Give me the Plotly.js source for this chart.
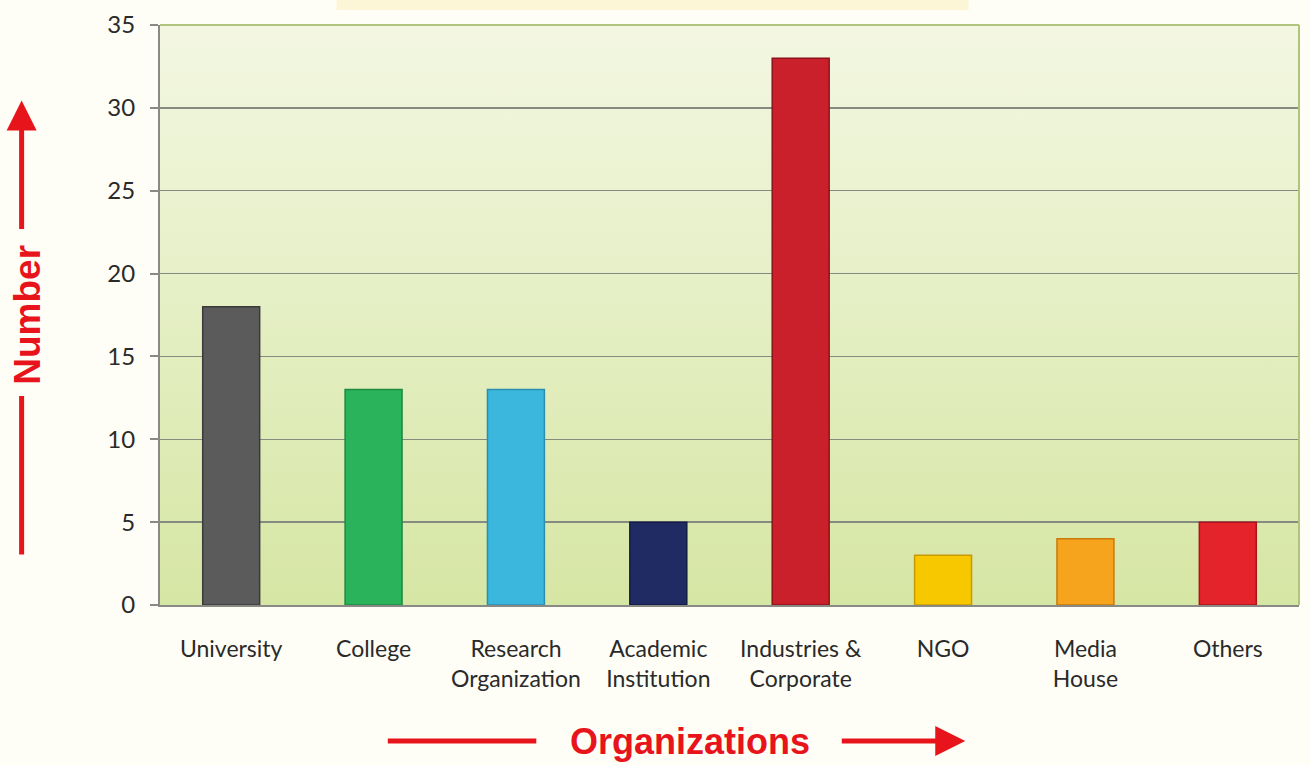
<!DOCTYPE html>
<html>
<head>
<meta charset="utf-8">
<script src="https://cdn.plot.ly/plotly-3.0.1.min.js"></script>
<style>html,body{margin:0;padding:0;background:#fffef6;}#chart{width:1310px;height:765px;}</style>
</head>
<body>
<div id="chart"></div>
<script>
const categories = ["University", "College", "Research<br>Organization", "Academic<br>Institution", "Industries &<br>Corporate", "NGO", "Media<br>House", "Others"];
const values = [18, 13, 13, 5, 33, 3, 4, 5];
const barColors = ["#5b5b5b", "#2bb35b", "#3bb6dd", "#1f2b62", "#c9202b", "#f7c800", "#f6a31e", "#e4232b"];
const barEdges = ["#3a3a3a", "#1c8a42", "#2a8eb0", "#141c44", "#8e1018", "#c99a00", "#c87a0c", "#a8151b"];
const yTicks = [0, 5, 10, 15, 20, 25, 30, 35];

const bgSvg = '<svg xmlns="http://www.w3.org/2000/svg" width="100" height="100" preserveAspectRatio="none">' +
  '<defs><linearGradient id="g" x1="0" y1="0" x2="0" y2="1">' +
  '<stop offset="0" stop-color="#f3f7e2"/><stop offset="1" stop-color="#d6e6a4"/></linearGradient></defs>' +
  '<rect width="100" height="100" fill="url(#g)"/></svg>';
const bgUri = 'data:image/svg+xml;charset=utf-8,' + encodeURIComponent(bgSvg);

const trace = {
  type: 'bar',
  x: categories,
  y: values,
  marker: {color: barColors, line: {color: barEdges, width: 1.5}},
  hoverinfo: 'x+y'
};

const red = '#e8141c';
const layout = {
  width: 1310, height: 765,
  margin: {l: 160, r: 11, t: 25, b: 160},
  paper_bgcolor: '#fffef6',
  plot_bgcolor: 'rgba(0,0,0,0)',
  bargap: 0.6,
  showlegend: false,
  font: {family: 'Lato, sans-serif', color: '#2a2a2a'},
  xaxis: {
    type: 'category',
    tickfont: {size: 23, color: '#2a2a2a'},
    showline: true, linecolor: '#8a8a84', linewidth: 2,
    ticks: '', showgrid: false,
    ticklabelstandoff: 22,
    mirror: false
  },
  yaxis: {
    range: [0, 35],
    tickvals: yTicks,
    ticktext: yTicks.map(String),
    tickfont: {size: 24, color: '#2a2a2a'},
    showline: true, linecolor: '#8a8a84', linewidth: 2,
    ticks: 'outside', ticklen: 8, tickcolor: '#8a8a84', tickwidth: 2,
    ticklabelstandoff: 10,
    showgrid: true, gridcolor: '#858b7e', gridwidth: 1.5,
    zeroline: false
  },
  images: [{
    source: bgUri, xref: 'paper', yref: 'paper', x: 0, y: 1, sizex: 1, sizey: 1,
    xanchor: 'left', yanchor: 'top', sizing: 'stretch', layer: 'below'
  }],
  shapes: [
    {type: 'line', xref: 'paper', yref: 'paper', x0: 0, x1: 1, y0: 1, y1: 1, line: {color: '#b0c47e', width: 2}},
    {type: 'line', xref: 'paper', yref: 'paper', x0: 1, x1: 1, y0: 0, y1: 1, line: {color: '#b0c47e', width: 2}},
    {type: 'rect', xref: 'paper', yref: 'paper', x0: 0.155, x1: 0.71, y0: 1.026, y1: 1.045, fillcolor: '#fdf6d6', line: {width: 0}, layer: 'below'}
  ],
  annotations: [
    {xref: 'paper', yref: 'paper', x: -0.117, y: 0.5, text: '<b>Number</b>', textangle: -90, showarrow: false,
     font: {family: 'Liberation Sans, Arial, sans-serif', size: 37, color: red}, xanchor: 'center', yanchor: 'middle'},
    {xref: 'paper', yref: 'paper', x: 0.465, y: -0.2345, text: '<b>Organizations</b>', showarrow: false,
     font: {family: 'Liberation Sans, Arial, sans-serif', size: 36, color: red}, xanchor: 'center', yanchor: 'middle'},
    // vertical arrow parts
    {xref: 'paper', yref: 'paper', x: -0.1215, y: 0.87, ax: 0, ay: 130, text: '', showarrow: true,
     arrowhead: 2, arrowsize: 1.2, arrowwidth: 5, arrowcolor: red},
    {xref: 'paper', yref: 'paper', x: -0.1215, y: 0.087, ax: 0, ay: -160, text: '', showarrow: true,
     arrowhead: 0, arrowwidth: 5, arrowcolor: red, standoff: 0, startstandoff: 0},
    // horizontal arrow parts
    {xref: 'paper', yref: 'paper', x: 0.2, y: -0.2345, ax: 150, ay: 0, text: '', showarrow: true,
     arrowhead: 0, arrowwidth: 5, arrowcolor: red},
    {xref: 'paper', yref: 'paper', x: 0.707, y: -0.2345, ax: -125, ay: 0, text: '', showarrow: true,
     arrowhead: 2, arrowsize: 1.2, arrowwidth: 5, arrowcolor: red}
  ]
};

Plotly.newPlot('chart', [trace], layout, {displayModeBar: false, staticPlot: true});
</script>
</body>
</html>
